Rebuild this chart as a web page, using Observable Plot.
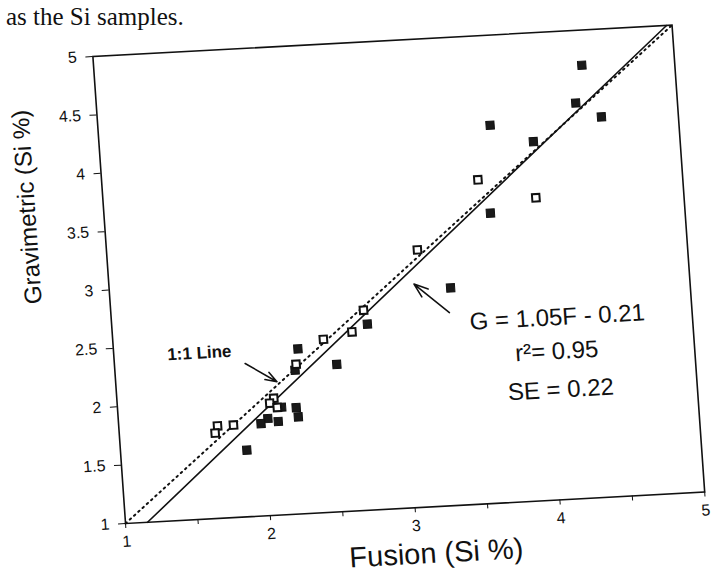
<!DOCTYPE html>
<html><head><meta charset="utf-8">
<script src="https://cdn.jsdelivr.net/npm/d3@7"></script>
<script src="https://cdn.jsdelivr.net/npm/@observablehq/plot@0.6"></script>
<style>
html,body{margin:0;padding:0;background:#fff;}
#wrap{position:relative;width:720px;height:582px;overflow:hidden;background:#fff;}
#top{position:absolute;left:6px;top:4px;line-height:26px;font-family:"Liberation Serif","DejaVu Serif",serif;font-size:25px;color:#111;white-space:nowrap;z-index:2;}
#chart{position:absolute;left:0;top:0;z-index:1;}
#chart svg{overflow:visible;transform:rotate(-3.1deg) skewX(0.9deg);transform-origin:125px 523px;}
</style></head><body>
<div id="wrap"><div id="chart"></div><div id="top">as the Si samples.</div></div>
<script>
// Open squares: Fusion (x) and Gravimetric (y), Si %
const openFusion = [3.59, 3.98, 3.14, 2.74, 2.65, 2.45, 2.25, 2.08, 2.05, 2.10, 1.68, 1.79, 1.66];
const openGrav   = [3.77, 3.59, 3.20, 2.71, 2.53, 2.48, 2.28, 2.00, 1.96, 1.92, 1.79, 1.79, 1.73];
// Filled squares
const filledFusion = [4.36, 4.30, 4.47, 3.99, 3.70, 3.66, 3.35, 2.76, 2.27, 2.24, 2.53, 2.13, 2.23, 2.24, 2.03, 1.98, 2.10, 1.87];
const filledGrav   = [4.70, 4.38, 4.25, 4.07, 4.23, 3.48, 2.86, 2.59, 2.41, 2.23, 2.26, 1.92, 1.91, 1.83, 1.83, 1.79, 1.80, 1.57];
// Lines: 1:1 line and regression G = 1.05F - 0.21 (end points)
const oneToOneX = [1, 5];
const oneToOneY = [1, 5];
const fitX = [1.152, 4.962];
const fitY = [1, 5];
// Ticks
const xTickValues = [1, 1.5, 2, 2.5, 3, 3.5, 4, 4.5, 5];
const xTickLabels = ["1", "", "2", "", "3", "", "4", "", "5"];
const yTickValues = [1, 1.5, 2, 2.5, 3, 3.5, 4, 4.5, 5];
const yTickLabels = ["1", "1.5", "2", "2.5", "3", "3.5", "4", "4.5", "5"];
// Texts
const xTitle = "Fusion (Si %)";
const yTitle = "Gravimetric (Si %)";
const lineLabel = ["1:1 Line"];
const lineLabelX = [1.59];
const lineLabelY = [2.42];
const statLabels = ["G = 1.05F - 0.21", "r\u00B2= 0.95", "SE = 0.22"];
const statX = [4.07, 4.05, 4.06];
const statY = [2.56, 2.27, 1.94];
// Arrows (tail -> head)
const arrowX1 = [1.90, 3.33];
const arrowY1 = [2.31, 2.65];
const arrowX2 = [2.11, 3.10];
const arrowY2 = [2.14, 2.91];

const openData = openFusion.map((x, i) => ({x, y: openGrav[i]}));
const filledData = filledFusion.map((x, i) => ({x, y: filledGrav[i]}));

const chart = Plot.plot({
  width: 720, height: 582,
  marginLeft: 125, marginRight: 15, marginTop: 55, marginBottom: 59,
  style: {fontFamily: '"Liberation Sans", Arial, sans-serif', fontSize: "16px", color: "#111", background: "transparent", overflow: "visible"},
  x: {domain: [1, 5]},
  y: {domain: [1, 5]},
  marks: [
    Plot.frame({stroke: "#111", strokeWidth: 1.6}),
    Plot.axisX({ticks: xTickValues, tickFormat: d => xTickLabels[xTickValues.indexOf(d)], tickSize: 5, tickPadding: 7, fontSize: 16, label: null, stroke: "#111", fill: "#111"}),
    Plot.axisY({ticks: yTickValues, tickFormat: d => yTickLabels[yTickValues.indexOf(d)], tickSize: 7, tickPadding: 9, fontSize: 16, label: null, stroke: "#111", fill: "#111"}),
    Plot.text([yTitle], {text: d => d, frameAnchor: "left", dx: -76, dy: 10, rotate: -90, fontSize: 24, fill: "#111"}),
    Plot.text([xTitle], {text: d => d, frameAnchor: "bottom", dx: 18, dy: 56, fontSize: 29, fill: "#111"}),
    Plot.line(oneToOneX, {x: oneToOneX, y: oneToOneY, stroke: "#111", strokeWidth: 2, strokeDasharray: "1.6,4.2"}),
    Plot.line(fitX, {x: fitX, y: fitY, stroke: "#111", strokeWidth: 1.6}),
    Plot.dot(filledData, {x: "x", y: "y", symbol: "square", r: 4.6, fill: "#1a1a1a", stroke: "#111", strokeWidth: 1}),
    Plot.dot(openData, {x: "x", y: "y", symbol: "square", r: 4.2, fill: "#fff", stroke: "#111", strokeWidth: 2}),
    Plot.arrow(arrowX1, {x1: arrowX1, y1: arrowY1, x2: arrowX2, y2: arrowY2, stroke: "#111", strokeWidth: 1.6, headLength: 14, headAngle: 40}),
    Plot.text(lineLabel, {x: lineLabelX, y: lineLabelY, text: d => d, fontSize: 17, fontWeight: "bold", fill: "#111"}),
    Plot.text(statLabels, {x: statX, y: statY, text: d => d, fontSize: 24, fill: "#111"})
  ]
});
document.getElementById("chart").appendChild(chart);
</script>
</body></html>
